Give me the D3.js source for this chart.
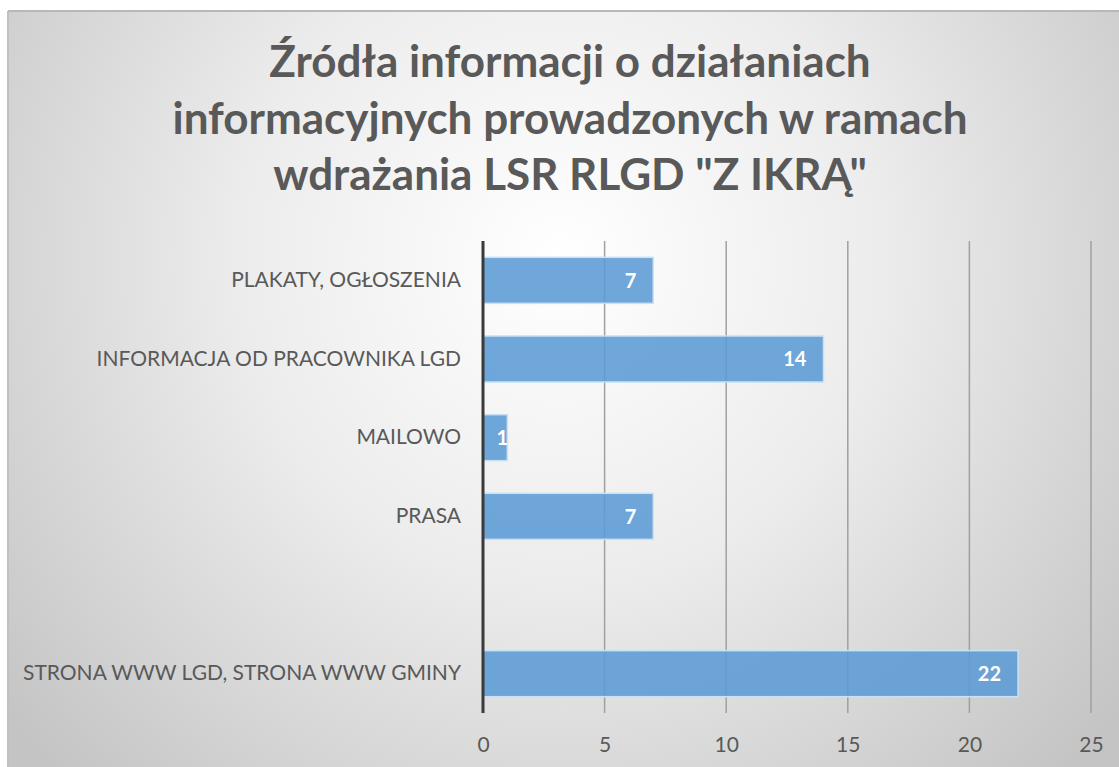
<!DOCTYPE html>
<html><head><meta charset="utf-8">
<script src="https://cdn.jsdelivr.net/npm/d3@7"></script>
<style>html,body{margin:0;padding:0;background:#fff;}svg{display:block;}</style>
</head><body>
<script>
const categories = ["PLAKATY, OGŁOSZENIA", "INFORMACJA OD PRACOWNIKA LGD", "MAILOWO", "PRASA", "", "STRONA WWW LGD, STRONA WWW GMINY"];
const values = [7, 14, 1, 7, null, 22];
const tickValues = [0, 5, 10, 15, 20, 25];
const titleLines = ["Źródła informacji o działaniach", "informacyjnych prowadzonych w ramach", "wdrażania LSR RLGD \"Z IKRĄ\""];

const W = 1119, H = 767;
const svg = d3.select("body").append("svg").attr("width", W).attr("height", H);
const defs = svg.append("defs");
const grad = defs.append("radialGradient").attr("id", "bg")
  .attr("gradientUnits", "userSpaceOnUse")
  .attr("cx", 560).attr("cy", 260).attr("r", 720);
grad.append("stop").attr("offset", "0%").attr("stop-color", "#ffffff");
grad.append("stop").attr("offset", "45%").attr("stop-color", "#ececec");
grad.append("stop").attr("offset", "100%").attr("stop-color", "#c4c4c4");

svg.append("rect").attr("x", 8).attr("y", 11).attr("width", W - 8).attr("height", H - 11)
  .attr("fill", "url(#bg)");
svg.append("line").attr("x1", 8).attr("x2", W).attr("y1", 11).attr("y2", 11).attr("stroke", "#b8b8b8").attr("stroke-width", 2);
svg.append("line").attr("x1", 8).attr("x2", 8).attr("y1", 11).attr("y2", H).attr("stroke", "#c0c0c0").attr("stroke-width", 2);

const font = "Lato, 'Open Sans', sans-serif";

// title
const title = svg.append("text").attr("text-anchor", "middle")
  .attr("font-family", font).attr("font-weight", 700).attr("font-size", 44)
  .attr("fill", "#595959");
titleLines.forEach((t, i) => {
  title.append("tspan").attr("x", 570).attr("y", 77 + i * 56.5).text(t);
});

const x = d3.scaleLinear().domain([0, 25]).range([483, 1091]);
const y = d3.scaleBand().domain(categories.map((c, i) => i)).range([241, 713])
  .paddingInner(0.415).paddingOuter(0.2075);

// gridlines
svg.append("g").selectAll("line").data(tickValues.slice(1)).join("line")
  .attr("x1", d => x(d)).attr("x2", d => x(d)).attr("y1", 241).attr("y2", 713)
  .attr("stroke", "#a0a0a0").attr("stroke-width", 1.5);

// bars
const bars = svg.append("g");
bars.selectAll("rect").data(values.map((v, i) => ({v, i})).filter(d => d.v != null)).join("rect")
  .attr("x", x(0)).attr("y", d => y(d.i))
  .attr("width", d => x(d.v) - x(0)).attr("height", y.bandwidth())
  .attr("fill", "#5b9bd5").attr("fill-opacity", 0.88)
  .attr("stroke", "#c9e0f5").attr("stroke-width", 1.5);

// value labels
svg.append("g").selectAll("text").data(values.map((v, i) => ({v, i})).filter(d => d.v != null)).join("text")
  .attr("x", d => Math.max(x(d.v) - 17, x(0) + 25))
  .attr("y", d => y(d.i) + y.bandwidth() / 2)
  .attr("dy", "0.36em").attr("text-anchor", "end")
  .attr("font-family", font).attr("font-weight", 700).attr("font-size", 20)
  .attr("fill", "#ffffff").text(d => d.v);

// axis at zero
svg.append("line").attr("x1", x(0)).attr("x2", x(0)).attr("y1", 241).attr("y2", 713)
  .attr("stroke", "#3a3a3a").attr("stroke-width", 3);

// category labels
const yAxis = d3.axisLeft(y).tickSize(0).tickPadding(0).tickFormat(i => categories[i]);
const gy = svg.append("g").attr("transform", `translate(461,0)`).call(yAxis);
gy.select(".domain").remove();
gy.selectAll("text").attr("font-family", font).attr("font-size", 21).attr("fill", "#595959");

// x tick labels
const xAxis = d3.axisBottom(x).tickValues(tickValues).tickSize(0).tickPadding(0);
const gx = svg.append("g").attr("transform", `translate(0,737)`).call(xAxis);
gx.select(".domain").remove();
gx.selectAll("text").attr("font-family", font).attr("font-size", 21).attr("fill", "#595959");
</script>
</body></html>
